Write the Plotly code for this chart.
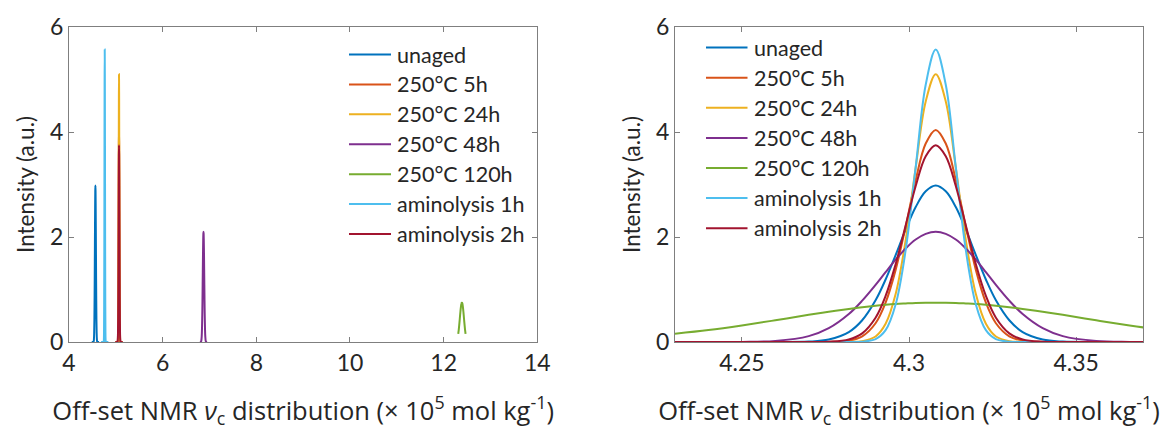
import numpy as np
import plotly.graph_objects as go

# ---------------- data ----------------
names = ["unaged", "250°C 5h", "250°C 24h", "250°C 48h", "250°C 120h",
         "aminolysis 1h", "aminolysis 2h"]
colors = ["#0072BD", "#D95319", "#EDB120", "#7E2F8E", "#77AC30", "#4DBEEE", "#A2142F"]

# peak positions of the (un-shifted) distributions, left panel
left_centers = [4.564, 5.068, 5.068, 6.872, 12.39, 4.763, 5.068]
# common peak position in the off-set (right) panel
right_center = 4.308

x_right = [4.230, 4.240, 4.250, 4.260, 4.270, 4.276, 4.282, 4.286, 4.290, 4.293,
           4.296, 4.299, 4.302, 4.305, 4.308, 4.311, 4.314, 4.317, 4.320, 4.323,
           4.326, 4.330, 4.334, 4.340, 4.346, 4.356, 4.366, 4.376, 4.386]

y_unaged = [0, 0, 0, 0.0002, 0.008, 0.046, 0.189, 0.414, 0.794, 1.19, 1.656, 2.14, 2.57, 2.87, 2.98,
            2.87, 2.57, 2.14, 1.656, 1.19, 0.794, 0.414, 0.189, 0.046, 0.008, 0.0002, 0, 0, 0]
y_5h = [0, 0, 0, 0, 0, 0.002, 0.026, 0.108, 0.357, 0.749, 1.374, 2.20, 3.085, 3.78, 4.04,
        3.78, 3.085, 2.20, 1.374, 0.749, 0.357, 0.108, 0.026, 0.002, 0, 0, 0, 0, 0]
y_24h = [0, 0, 0, 0, 0, 0, 0.002, 0.016, 0.106, 0.347, 0.913, 1.94, 3.32, 4.58, 5.10,
         4.58, 3.32, 1.94, 0.913, 0.347, 0.106, 0.016, 0.002, 0, 0, 0, 0, 0, 0]
y_48h = [0, 0.0002, 0.002, 0.020, 0.112, 0.263, 0.533, 0.787, 1.088, 1.331, 1.568, 1.782, 1.952, 2.06, 2.10,
         2.06, 1.952, 1.782, 1.568, 1.331, 1.088, 0.787, 0.533, 0.263, 0.112, 0.020, 0.002, 0.0002, 0]
y_120h = [0.156, 0.227, 0.315, 0.414, 0.517, 0.576, 0.630, 0.662, 0.690, 0.708, 0.723, 0.734, 0.743, 0.748, 0.75,
          0.748, 0.743, 0.734, 0.723, 0.708, 0.690, 0.662, 0.630, 0.576, 0.517, 0.414, 0.315, 0.227, 0.156]
y_am1h = [0, 0, 0, 0, 0, 0, 0.0004, 0.006, 0.055, 0.225, 0.714, 1.75, 3.33, 4.90, 5.57,
          4.90, 3.33, 1.75, 0.714, 0.225, 0.055, 0.006, 0.0004, 0, 0, 0, 0, 0, 0]
y_am2h = [0, 0, 0, 0, 0.0003, 0.005, 0.048, 0.165, 0.463, 0.877, 1.48, 2.22, 2.97, 3.54, 3.75,
          3.54, 2.97, 2.22, 1.48, 0.877, 0.463, 0.165, 0.048, 0.005, 0.0003, 0, 0, 0, 0]

series = [y_unaged, y_5h, y_24h, y_48h, y_120h, y_am1h, y_am2h]

left_ticks = [4, 6, 8, 10, 12, 14]
right_ticks = [4.25, 4.3, 4.35]
right_ticktext = ["4.25", "4.3", "4.35"]
y_ticks = [0, 2, 4, 6]

# ---------------- layout helpers ----------------
W, H = 1173, 432
ML, MR, MT, MB = 69, 30, 25, 90
PW, PH = W - ML - MR, H - MT - MB


def px_x(px):
    return (px - ML) / PW


def px_y(py):
    return (H - MB - py) / PH


FONT = "Lato"
TFONT = "Open Sans"
TXT = "#262626"
AX = "#7f7f7f"

fig = go.Figure()
xr = np.array(x_right)
for i, (nm, col, ys) in enumerate(zip(names, colors, series)):
    fig.add_trace(go.Scatter(x=left_centers[i] + (xr - right_center), y=ys, mode="lines",
                             line=dict(color=col, width=2, shape="spline"),
                             name=nm, showlegend=False, xaxis="x", yaxis="y"))
for i, (nm, col, ys) in enumerate(zip(names, colors, series)):
    fig.add_trace(go.Scatter(x=x_right, y=ys, mode="lines",
                             line=dict(color=col, width=2, shape="spline"),
                             name=nm, showlegend=False, xaxis="x2", yaxis="y2"))

title_x = ("Off-set NMR <i>ν</i><sub>c</sub> distribution (× 10<sup>5</sup> mol kg<sup>-1</sup>)")

axis_common = dict(showline=True, linecolor=AX, linewidth=1, mirror="ticks",
                   ticks="inside", ticklen=5, tickcolor=AX, tickwidth=1,
                   showgrid=False, zeroline=False, layer="below traces",
                   tickfont=dict(family=FONT, size=23, color=TXT))

xtitle = dict(text=title_x, font=dict(family=TFONT, size=25.5, color=TXT), standoff=27)
ytitle = dict(text="Intensity (a.u.)", font=dict(family=FONT, size=22.5, color=TXT), standoff=9)

fig.update_layout(
    width=W, height=H, margin=dict(l=ML, r=MR, t=MT, b=MB),
    paper_bgcolor="white", plot_bgcolor="white", showlegend=False,
    font=dict(family=FONT, color=TXT, size=20),
    xaxis=dict(domain=[0, px_x(537.3)], range=[4, 14], tickvals=left_ticks, anchor="y",
               title=xtitle, **axis_common),
    yaxis=dict(domain=[0, 1], range=[0, 6], tickvals=y_ticks, anchor="x",
               title=ytitle, **axis_common),
    xaxis2=dict(domain=[px_x(675), 1], range=[4.23, 4.37], tickvals=right_ticks,
                ticktext=right_ticktext, anchor="y2", title=xtitle, **axis_common),
    yaxis2=dict(domain=[0, 1], range=[0, 6], tickvals=y_ticks, anchor="x2",
                title=ytitle, **axis_common),
)

# ---------------- legends (line sample + label) ----------------
legend_specs = [
    (349, 391, 395, 52.7, 30.1),
    (706, 747.5, 752, 45.7, 30.3),
]
for (lx0, lx1, tx, y0, dy) in legend_specs:
    for i, (nm, col) in enumerate(zip(names, colors)):
        yy = px_y(y0 + dy * i)
        fig.add_shape(type="line", xref="paper", yref="paper",
                      x0=px_x(lx0), x1=px_x(lx1), y0=yy, y1=yy,
                      line=dict(color=col, width=2))
        fig.add_annotation(xref="paper", yref="paper", x=px_x(tx), y=yy,
                           xanchor="left", yanchor="middle", showarrow=False,
                           text=nm, font=dict(family=FONT, size=21.5, color=TXT))

fig.write_html("out.html")
